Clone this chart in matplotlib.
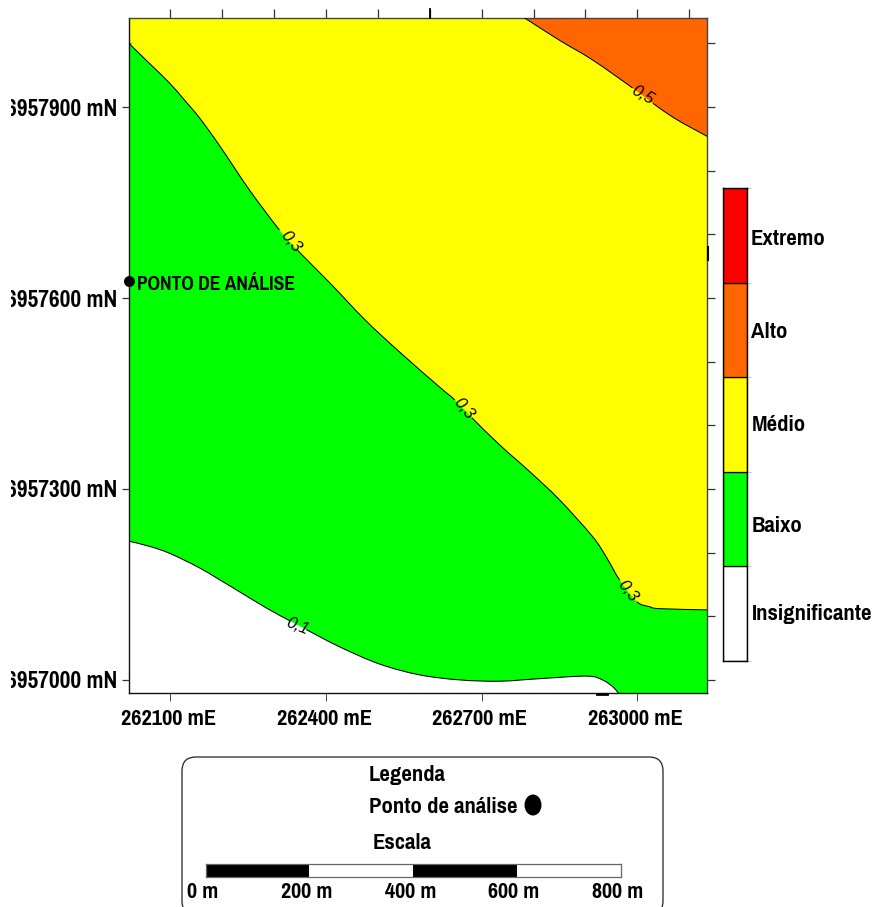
import matplotlib
matplotlib.use("Agg")
import logging
logging.getLogger("matplotlib.font_manager").setLevel(logging.ERROR)
import matplotlib.pyplot as plt
from matplotlib.patches import FancyBboxPatch, Ellipse, Rectangle, PathPatch
from matplotlib.path import Path
from matplotlib.ticker import FixedLocator
from matplotlib.transforms import ScaledTranslation

W, H = 873, 907
FONT = ['Pragati Narrow', 'PT Sans Narrow', 'Roboto Condensed', 'Liberation Sans', 'DejaVu Sans']
plt.rcParams['font.family'] = FONT

# ---- data (map coordinates) ----
x_limits = [262020, 263135]
y_limits = [6956979, 6958040]
x_major = [262100, 262400, 262700, 263000]
y_major = [6957000, 6957300, 6957600, 6957900]
x_hundreds = [262100, 262200, 262300, 262400, 262500, 262600, 262700, 262800, 262900, 263000, 263100]
y_hundreds = [6957000, 6957100, 6957200, 6957300, 6957400, 6957500, 6957600, 6957700, 6957800, 6957900, 6958000]

c01_x = [262020, 262059, 262098, 262156, 262220, 262285, 262330, 262362, 262426, 262503, 262580, 262658, 262735, 262812, 262903, 262933, 262953, 262964]
c01_y = [6957218, 6957210, 6957199, 6957176, 6957145, 6957113, 6957093, 6957079, 6957052, 6957025, 6957008, 6957000, 6956998, 6957002, 6957006, 6957000, 6956989, 6956979]
c03_x = [262020, 262059, 262098, 262127, 262156, 262195, 262252, 262310, 262345, 262407, 262476, 262542, 262619, 262648, 262681, 262735, 262793, 262850, 262914, 262941, 262966, 262999, 263024, 263043, 263135]
c03_y = [6958000, 6957969, 6957938, 6957911, 6957883, 6957839, 6957770, 6957707, 6957675, 6957624, 6957565, 6957515, 6957460, 6957440, 6957412, 6957369, 6957327, 6957283, 6957225, 6957192, 6957157, 6957123, 6957115, 6957112, 6957110]
c05_x = [262783, 262850, 262914, 262991, 263030, 263069, 263101, 263135]
c05_y = [6958040, 6958005, 6957974, 6957930, 6957906, 6957884, 6957869, 6957854]

point_x, point_y = 262020, 6957627
point_name = "PONTO DE ANÁLISE"

risk_names = ["Insignificante", "Baixo", "Médio", "Alto", "Extremo"]
risk_colors = ["#FFFFFF", "#00FF00", "#FFFF00", "#FF6600", "#FF0000"]
risk_levels = [-0.1, 0.1, 0.3, 0.5, 0.7, 0.9]

scale_edges = [0, 200, 400, 600, 800]
scale_colors = ["black", "white", "black", "white"]

# ---- layout helpers ----
fig = plt.figure(figsize=(W / 100, H / 100), dpi=100, facecolor="white")
def axes_px(l, t, r, b, **kw):
    return fig.add_axes([l / W, 1 - b / H, (r - l) / W, (b - t) / H], **kw)
px = 0.72  # points per pixel

def smooth(xs, ys, i0=0, i1=None):
    """Bezier pieces running through the read points i0..i1 (drawn curve, no new values)."""
    i1 = len(xs) - 1 if i1 is None else i1
    n = len(xs)
    verts, codes = [(xs[i0], ys[i0])], [Path.MOVETO]
    for i in range(i0, i1):
        a, d = max(i - 1, 0), min(i + 2, n - 1)
        verts += [(xs[i] + (xs[i + 1] - xs[a]) / 6, ys[i] + (ys[i + 1] - ys[a]) / 6),
                  (xs[i + 1] - (xs[d] - xs[i]) / 6, ys[i + 1] - (ys[d] - ys[i]) / 6),
                  (xs[i + 1], ys[i + 1])]
        codes += [Path.CURVE4] * 3
    return verts, codes

def region(xs, ys, corners_x, corners_y, color):
    v, c = smooth(xs, ys)
    v = v + list(zip(corners_x, corners_y)) + [(xs[0], ys[0])]
    c = c + [Path.LINETO] * len(corners_x) + [Path.CLOSEPOLY]
    ax.add_patch(PathPatch(Path(v, c), fc=color, ec="none", lw=0, zorder=2))

def contour(xs, ys, gaps):
    start = 0
    for g in gaps + [len(xs) - 1]:
        v, c = smooth(xs, ys, start, g)
        ax.add_patch(PathPatch(Path(v, c), fc="none", ec="black", lw=0.75, zorder=3))
        start = g + 1

# ---- map ----
ax = axes_px(129, 18, 707.3, 693.3)
ax.set_xlim(x_limits); ax.set_ylim(y_limits)
ax.set_facecolor(risk_colors[2])
xmin, xmax = x_limits; ymin, ymax = y_limits
region(c03_x, c03_y, [xmax, xmin], [ymin, ymin], risk_colors[1])
region(c01_x, c01_y, [xmin], [ymin], risk_colors[0])
region(c05_x, c05_y, [xmax], [ymax], risk_colors[3])
contour(c01_x, c01_y, [6])
contour(c03_x, c03_y, [7, 13, 20])
contour(c05_x, c05_y, [3])

def clabel(s, x, y, rot):
    ax.text(x, y, s, fontsize=12, style="italic", rotation=rot, rotation_mode="anchor",
            ha="center", va="center", color="black", family=['Liberation Sans'], zorder=4)
clabel("0,1", 262345, 6957084, -22)
clabel("0,3", 262332, 6957689, -50)
clabel("0,3", 262665, 6957426, -50)
clabel("0,3", 262982, 6957140, -52)
clabel("0,5", 263011, 6957918, -30)

ax.plot([point_x], [point_y], "o", color="black", ms=11 * px, mew=0, clip_on=False, zorder=5)
ax.annotate(point_name, (point_x, point_y), xytext=(7.5 * px, -4 * px), textcoords="offset points",
            fontsize=15.3, fontweight="bold", va="center", ha="left", zorder=5)

ax.set_xticks(x_major)
ax.set_yticks(y_major)
ax.set_xticklabels([f"{v} mE" for v in x_major], fontsize=17.6, fontweight="bold")
ax.set_yticklabels([f"{v} mN" for v in y_major], fontsize=18.3, fontweight="bold")
ax.xaxis.set_minor_locator(FixedLocator(x_hundreds))
ax.yaxis.set_minor_locator(FixedLocator(y_hundreds))
ax.tick_params(axis="x", which="major", direction="out", length=8 * px, width=0.7, color="#444444", pad=8 * px)
ax.tick_params(axis="y", which="major", direction="out", length=7 * px, width=0.9, color="#333333", pad=4.5 * px)
ax.tick_params(axis="both", which="minor", direction="in", length=1.5 * px, width=0.6, color="#333333")
shift = ScaledTranslation(-2 / 100, 0, fig.dpi_scale_trans)
for t in ax.get_xticklabels():
    t.set_transform(t.get_transform() + shift)
for s in ax.spines.values():
    s.set_linewidth(1.0); s.set_color("#111111")
ax.spines["right"].set_color("#444444"); ax.spines["top"].set_color("#444444")

top = ax.secondary_xaxis("top")
top.set_xticks(x_hundreds); top.set_xticklabels([])
top.tick_params(direction="out", length=9 * px, width=0.9, color="#333333")
top.spines["top"].set_visible(False)
right = ax.secondary_yaxis("right")
right.set_yticks(y_hundreds); right.set_yticklabels([])
right.tick_params(direction="out", length=8 * px, width=0.9, color="#333333")
right.spines["right"].set_visible(False)

# ---- colour scale ----
cb = axes_px(723, 188, 747, 661)
for i, c in enumerate(risk_colors):
    cb.bar(0, risk_levels[i + 1] - risk_levels[i], bottom=risk_levels[i], width=1, color=c,
           edgecolor="black", lw=0.9)
cb.set_xlim(-0.5, 0.5); cb.set_ylim(risk_levels[0], risk_levels[-1])
cb.set_xticks([])
cb.yaxis.tick_right()
cb.set_yticks(risk_levels); cb.set_yticklabels([])
cb.tick_params(axis="y", direction="out", length=3.5 * px, width=0.6, color="#BBBBBB")
for s in cb.spines.values():
    s.set_linewidth(1.0)

# ---- overlay in pixels: names, legend box, small blemishes of the original ----
ov = axes_px(0, 0, W, H, zorder=-1)
ov.set_xlim(0, W); ov.set_ylim(H, 0); ov.axis("off")
bold = dict(fontweight="bold", fontsize=17.8, va="center", ha="left", color="black")
for name, xp, yp in zip(risk_names, [752, 752, 752, 751, 751], [614, 526, 425, 332, 239]):
    ov.text(xp, yp, name, **bold)
ov.add_patch(FancyBboxPatch((194, 769), 457, 134, boxstyle="round,pad=12,rounding_size=14",
                            fc="white", ec="#222222", lw=0.9, clip_on=True))
ov.text(369, 775, "Legenda", **bold)
ov.text(369, 807, "Ponto de análise", **bold)
ov.text(373, 843, "Escala", **bold)
ov.add_patch(Ellipse((533, 805), 17, 21, fc="black", ec="none"))

sb = axes_px(205.5, 864, 621, 877, zorder=2)
for i, c in enumerate(scale_colors):
    sb.barh(0, scale_edges[i + 1] - scale_edges[i], left=scale_edges[i], height=1, color=c, lw=0)
sb.set_xlim(scale_edges[0], scale_edges[-1]); sb.set_ylim(-0.5, 0.5)
sb.set_xticks([]); sb.set_yticks([])
for v in scale_edges:
    sb.annotate(f"{v} m", (v, 0), xycoords=("data", "axes fraction"), xytext=(-3 * px, -15 * px),
                textcoords="offset points", ha="center", va="center",
                fontsize=17.4, fontweight="bold", annotation_clip=False)
for s in sb.spines.values():
    s.set_linewidth(0.9); s.set_color("#666666")

# top overlay for the small thick marks on the frame
mk = axes_px(0, 0, W, H, zorder=5)
mk.set_xlim(0, W); mk.set_ylim(H, 0); mk.axis("off")
mk.plot([430, 430], [9, 18], color="black", lw=1.3)
mk.plot([708, 708], [247, 260], color="black", lw=1.5)
mk.plot([597, 607], [694, 694], color="black", lw=2)

# the left edge of the tick labels is cut by the picture's margin
fig.add_artist(Rectangle((0, 0), 11 / W, 1, transform=fig.transFigure, fc="white", ec="none", zorder=20))

fig.savefig("out.png", dpi=100, facecolor="white")
